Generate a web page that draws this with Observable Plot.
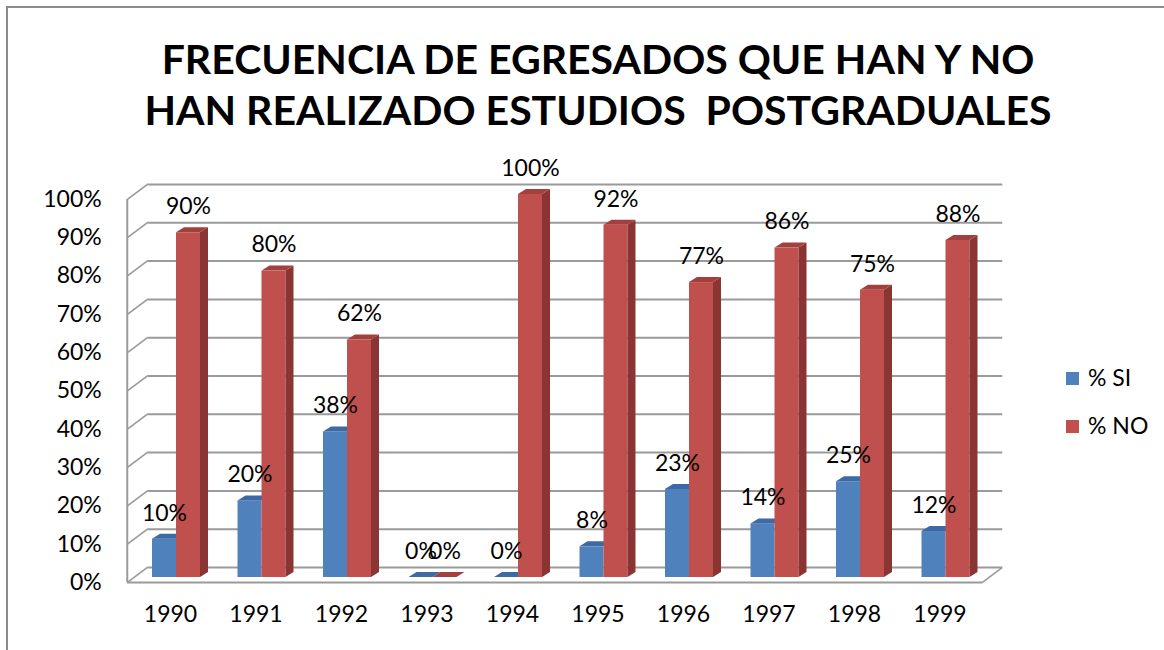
<!DOCTYPE html>
<html>
<head>
<meta charset="utf-8">
<script src="https://cdn.jsdelivr.net/npm/d3@7"></script>
<script src="https://cdn.jsdelivr.net/npm/@observablehq/plot@0.6"></script>
<style>
  html, body { margin: 0; padding: 0; background: #fff; }
  body { width: 1164px; height: 650px; overflow: hidden; position: relative; font-family: Lato, sans-serif; }
  #frame { position: absolute; left: 6px; top: 6px; width: 1200px; height: 700px;
           border-left: 2px solid #8c8c8c; border-top: 2px solid #8c8c8c; }
  #title { position: absolute; left: 32px; top: 0; width: 1132px; padding-top: 33px;
           text-align: center; font-weight: 700; font-size: 41px; line-height: 51px; color: #000; }
  #chart { position: absolute; left: 0; top: 140px; }
  .leg { position: absolute; left: 1066px; font-size: 23px; color: #000; line-height: 28px; }
  .leg span.sw { display: inline-block; width: 13px; height: 13px; margin-right: 9px; vertical-align: 1px; }
</style>
</head>
<body>
<div id="frame"></div>
<div id="title">FRECUENCIA DE EGRESADOS QUE HAN Y NO<br>HAN REALIZADO ESTUDIOS&nbsp; POSTGRADUALES</div>
<div id="chart"></div>
<div id="legend"></div>
<script>
const years = ["1990","1991","1992","1993","1994","1995","1996","1997","1998","1999"];
const si = [0.10, 0.20, 0.38, 0.00, 0.00, 0.08, 0.23, 0.14, 0.25, 0.12];
const no = [0.90, 0.80, 0.62, 0.00, 1.00, 0.92, 0.77, 0.86, 0.75, 0.88];
const yTicks = [0, 0.1, 0.2, 0.3, 0.4, 0.5, 0.6, 0.7, 0.8, 0.9, 1.0];
const seriesNames = ["% SI", "% NO"];
const colors = {siFront: "#4F81BD", siTop: "#3D6AA4", noFront: "#C0504D", noSide: "#8A3533", noTop: "#A1403D"};

const data = years.map((year, i) => ({year, si: si[i], no: no[i]}));
const pct = d3.format(".0%");

const W = 1164, H = 510;
const step = 85.5;            // band step
const left = 133.25;          // band range start
const half = step / 2;
const barW = 24, depthX = 8;

const chart = Plot.plot({
  width: W, height: H,
  marginLeft: left, marginRight: W - (left + step * years.length),
  marginTop: 54, marginBottom: 73,
  style: {fontFamily: "Lato, sans-serif", fontSize: "23px", background: "transparent", overflow: "visible"},
  x: {type: "band", domain: years, padding: 0, round: false, axis: null},
  y: {domain: [0, 1], axis: null},
  marks: [
    // back wall gridlines
    Plot.ruleY(yTicks, {dx: 14, dy: -10, stroke: "#9a9a9a", strokeWidth: 2}),
    // left wall diagonals
    Plot.tickY(yTicks, {x: () => years[0], y: d => d, insetLeft: 0, insetRight: step - 20, dx: -6, dy: 5,
      stroke: "#9a9a9a", strokeWidth: 2, ariaDescription: "diag"}),
    // left wall front edge
    Plot.barY([0], {x: () => years[0], y1: () => 0, y2: () => 1, insetLeft: 0, insetRight: step - 2, dx: -7, dy: 5,
      fill: "#9a9a9a"}),
    // floor front edge
    Plot.ruleY([0], {dx: -6, dy: 5, stroke: "#9a9a9a", strokeWidth: 2}),
    // floor right diagonal
    Plot.tickY([0], {x: () => years[years.length - 1], y: d => d, insetLeft: step - 20, insetRight: 0, dx: 14, dy: 5,
      stroke: "#9a9a9a", strokeWidth: 2, ariaDescription: "diag"}),
    // SI bars
    Plot.barY(data, {x: "year", y1: () => 0, y2: "si", insetLeft: half - barW, insetRight: half, fill: colors.siFront}),
    Plot.barY(data, {x: "year", y1: "si", y2: "si", insetLeft: half - barW, insetRight: half, insetTop: -5,
      fill: colors.siTop, ariaDescription: "top-face"}),
    // NO bars
    Plot.barY(data, {x: "year", y1: () => 0, y2: "no", insetLeft: half, insetRight: half - barW, fill: colors.noFront}),
    Plot.barY(data, {x: "year", y1: () => 0, y2: "no", insetLeft: half + barW, insetRight: half - barW - depthX,
      fill: colors.noSide, ariaDescription: "side-face"}),
    Plot.barY(data, {x: "year", y1: "no", y2: "no", insetLeft: half, insetRight: half - barW, insetTop: -5,
      fill: colors.noTop, ariaDescription: "top-face"}),
    // value labels
    Plot.text(data, {x: "year", y: "si", text: d => pct(d.si), dx: -12, dy: -26, fontSize: 23, fill: "#000"}),
    Plot.text(data, {x: "year", y: "no", text: d => pct(d.no), dx: 12, dy: -26, fontSize: 23, fill: "#000"}),
    // y tick labels
    Plot.text(yTicks, {y: d => d, text: d => pct(d), frameAnchor: "left", textAnchor: "end", dx: -32, dy: 5,
      fontSize: 23, fill: "#000"}),
    // x labels
    Plot.text(years, {x: d => d, text: d => d, frameAnchor: "bottom", dx: -6, dy: 44, fontSize: 23, fill: "#000"})
  ]
});

// 3D shear of faces
const deg = r => Math.atan(r) * 180 / Math.PI;
const root = d3.select(chart);
root.selectAll('g[aria-description="top-face"] rect').attr("transform", function () {
  const yb = +this.getAttribute("y") + +this.getAttribute("height");
  return `translate(0,${yb}) skewX(${-deg(depthX / 5)}) translate(0,${-yb})`;
});
root.selectAll('g[aria-description="side-face"] rect').attr("transform", function () {
  const x0 = +this.getAttribute("x");
  return `translate(${x0},0) skewY(${-deg(5 / depthX)}) translate(${-x0},0)`;
});
root.selectAll('g[aria-description="diag"] line').attr("transform", function () {
  const x0 = +this.getAttribute("x1");
  return `translate(${x0},0) skewY(${-deg(15 / 20)}) translate(${-x0},0)`;
});

document.getElementById("chart").appendChild(chart);

// legend
const legendColors = [colors.siFront, colors.noFront];
const legendTops = [363, 411];
const legend = document.getElementById("legend");
seriesNames.forEach((name, i) => {
  const div = document.createElement("div");
  div.className = "leg";
  div.style.top = legendTops[i] + "px";
  div.innerHTML = `<span class="sw" style="background:${legendColors[i]}"></span>${name}`;
  legend.appendChild(div);
});
</script>
</body>
</html>
